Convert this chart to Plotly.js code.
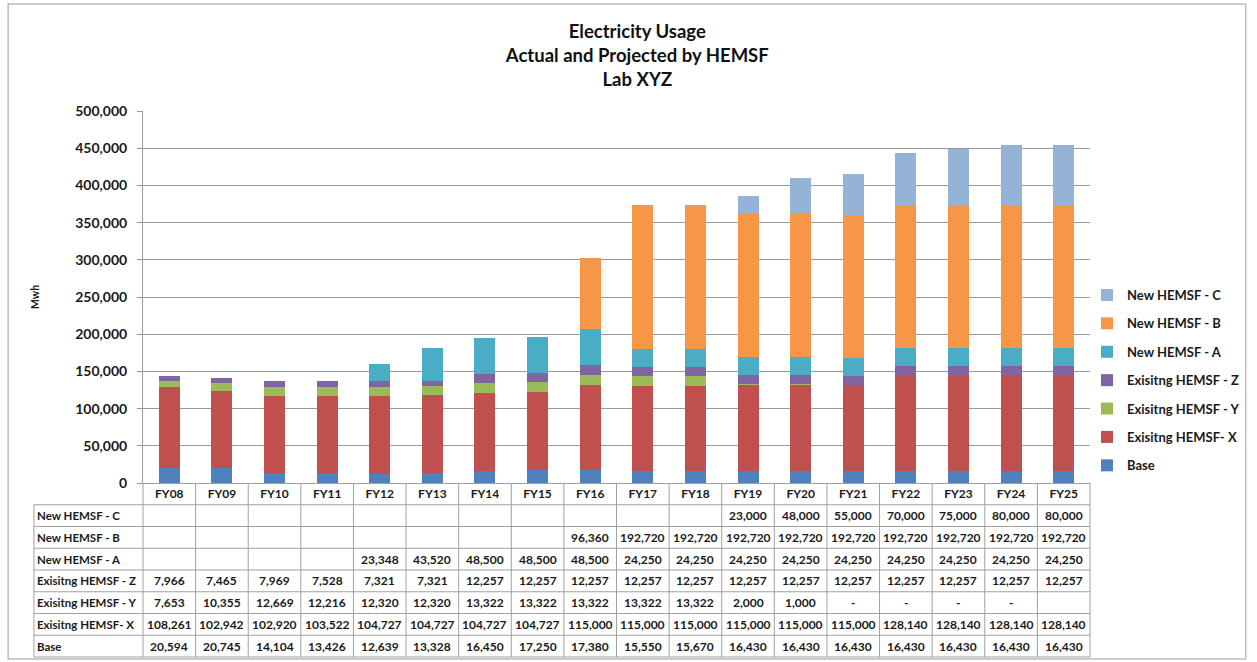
<!DOCTYPE html>
<html>
<head>
<meta charset="utf-8">
<script src="https://cdn.plot.ly/plotly-3.0.1.min.js"></script>
<style>html,body{margin:0;padding:0;background:#fff;}#chart{width:1257px;height:662px;}</style>
</head>
<body>
<div id="chart"></div>
<script>
var categories = ["FY08","FY09","FY10","FY11","FY12","FY13","FY14","FY15","FY16","FY17","FY18","FY19","FY20","FY21","FY22","FY23","FY24","FY25"];
var seriesNames = ["Base","Exisitng HEMSF- X","Exisitng HEMSF - Y","Exisitng HEMSF - Z","New HEMSF - A","New HEMSF - B","New HEMSF - C"];
var base = [20594,20745,14104,13426,12639,13328,16450,17250,17380,15550,15670,16430,16430,16430,16430,16430,16430,16430];
var existX = [108261,102942,102920,103522,104727,104727,104727,104727,115000,115000,115000,115000,115000,115000,128140,128140,128140,128140];
var existY = [7653,10355,12669,12216,12320,12320,13322,13322,13322,13322,13322,2000,1000,0,0,0,0,null];
var existZ = [7966,7465,7969,7528,7321,7321,12257,12257,12257,12257,12257,12257,12257,12257,12257,12257,12257,12257];
var newA = [null,null,null,null,23348,43520,48500,48500,48500,24250,24250,24250,24250,24250,24250,24250,24250,24250];
var newB = [null,null,null,null,null,null,null,null,96360,192720,192720,192720,192720,192720,192720,192720,192720,192720];
var newC = [null,null,null,null,null,null,null,null,null,null,null,23000,48000,55000,70000,75000,80000,80000];
var seriesValues = [base, existX, existY, existZ, newA, newB, newC];
var seriesColors = ["#4F81BD","#C0504D","#9BBB59","#8064A2","#4BACC6","#F79646","#95B3D7"];

var FONT = "Lato, 'Open Sans', sans-serif";
// geometry (pixels)
var W = 1257, H = 662;
var plotL = 143, plotR = 1098, plotT = 111, plotB = 483;
var pw = plotR - plotL, ph = plotB - plotT;
function px(xpix){ return (xpix - plotL) / pw; }
function py(ypix){ return (plotB - ypix) / ph; }
var rowH = 21.75;
var tableLeft = 33;
var nRows = seriesNames.length;

var traces = seriesNames.map(function(name, i){
  return {
    type: "bar", name: name, x: categories, y: seriesValues[i],
    marker: {color: seriesColors[i], line: {width: 0}},
    width: 0.4, legendgroup: "g" + i, legendrank: 1000 - i,
    hovertemplate: "%{x}<br>" + name + ": %{y:,}<extra></extra>"
  };
});

var shapes = [];
var annotations = [];
var lineColor = "#A0A0A0";
// horizontal table lines
for (var r = 1; r <= nRows + 1; r++) {
  var yy = plotB + r * rowH;
  shapes.push({type: "line", xref: "paper", yref: "paper", x0: px(tableLeft), x1: 1, y0: py(yy), y1: py(yy), line: {color: lineColor, width: 1}});
}
// vertical lines at category boundaries
for (var c = 0; c <= categories.length; c++) {
  var xx = c / categories.length;
  shapes.push({type: "line", xref: "paper", yref: "paper", x0: xx, x1: xx, y0: py(plotB), y1: py(plotB + (nRows + 1) * rowH), line: {color: lineColor, width: 1}});
}
// label column left border
shapes.push({type: "line", xref: "paper", yref: "paper", x0: px(tableLeft), x1: px(tableLeft), y0: py(plotB + rowH), y1: py(plotB + (nRows + 1) * rowH), line: {color: lineColor, width: 1}});
// chart outer border
shapes.push({type: "rect", xref: "paper", yref: "paper", x0: px(7), x1: px(1255), y0: py(4), y1: py(659), line: {color: "#BDBDBD", width: 1.5}});

function fmt(v){
  if (v === null || v === undefined) return "";
  if (v === 0) return "-";
  return v.toLocaleString("en-US");
}
// table rows: top row = last series (New HEMSF - C)
for (var k = 0; k < nRows; k++) {
  var si = nRows - 1 - k;
  var yc = plotB + (k + 1) * rowH + rowH / 2;
  annotations.push({xref: "paper", yref: "paper", x: px(tableLeft + 1), y: py(yc), xanchor: "left", yanchor: "middle", showarrow: false, text: seriesNames[si], font: {family: FONT, size: 11.5, color: "#1a1a1a", weight: "bold"}});
  for (var j = 0; j < categories.length; j++) {
    var t = fmt(seriesValues[si][j]);
    if (t === "") continue;
    annotations.push({xref: "x", yref: "paper", x: categories[j], y: py(yc), xanchor: "center", yanchor: "middle", showarrow: false, text: t, font: {family: FONT, size: 12, color: "#1a1a1a", weight: "bold"}});
  }
}

var layout = {
  width: W, height: H,
  paper_bgcolor: "#fff", plot_bgcolor: "#fff",
  margin: {l: plotL, r: W - plotR, t: plotT, b: H - plotB, pad: 0},
  barmode: "stack", bargap: 0.6,
  font: {family: FONT, color: "#1a1a1a"},
  title: {
    text: "Electricity Usage<br>Actual and Projected by HEMSF<br>Lab XYZ",
    font: {family: FONT, size: 18.5, color: "#111", weight: "bold"},
    xref: "container", x: 0.507, xanchor: "center",
    yref: "container", y: 0.943, yanchor: "top"
  },
  xaxis: {
    type: "category", showgrid: false, zeroline: false,
    showline: true, linecolor: lineColor, linewidth: 1,
    ticks: "", tickfont: {family: FONT, size: 12, color: "#1a1a1a", weight: "bold"},
    fixedrange: true
  },
  yaxis: {
    range: [0, 500000], dtick: 50000, tickformat: ",",
    showgrid: true, gridcolor: "#9A9A9A", gridwidth: 1,
    showline: true, linecolor: "#9A9A9A", linewidth: 1,
    zeroline: false,
    ticks: "outside", ticklen: 5, tickcolor: "#9A9A9A",
    ticklabelstandoff: 7,
    tickfont: {family: FONT, size: 14, color: "#1a1a1a", weight: "bold"},
    title: {text: "Mwh", font: {family: FONT, size: 10.5, color: "#1a1a1a", weight: "bold"}, standoff: 33},
    fixedrange: true
  },
  legend: {
    x: px(1095), xanchor: "left", y: py(280), yanchor: "top",
    traceorder: "grouped", tracegroupgap: 8.5,
    font: {family: FONT, size: 13, color: "#1a1a1a", weight: "bold"},
    bgcolor: "rgba(0,0,0,0)"
  },
  shapes: shapes,
  annotations: annotations,
  showlegend: true
};

Plotly.newPlot("chart", traces, layout, {displayModeBar: false, staticPlot: true});
</script>
</body>
</html>
